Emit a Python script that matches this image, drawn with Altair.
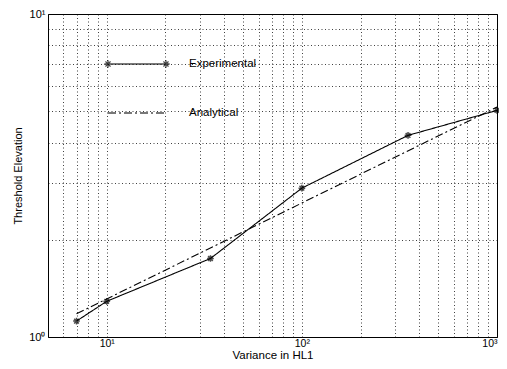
import altair as alt
import pandas as pd

# ---- data ----
series = ["Experimental", "Analytical"]
exp_x = [7, 10, 34, 100, 350, 1000]
exp_y = [1.12, 1.29, 1.75, 2.89, 4.21, 5.03]
ana_x = [7, 1000]
ana_y = [1.18, 5.15]

x_grid = [5, 6, 7, 8, 9, 10, 20, 30, 40, 50, 60, 70, 80, 90,
          100, 200, 300, 400, 500, 600, 700, 800, 900, 1000]
y_grid = [1, 2, 3, 4, 5, 6, 7, 8, 9, 10]
x_tick_labels = {10: "10¹", 100: "10²", 1000: "10³"}
y_tick_labels = {1: "10⁰", 10: "10¹"}

FONT = "Liberation Sans"

df = pd.DataFrame(
    [{"x": a, "y": b, "series": series[0]} for a, b in zip(exp_x, exp_y)]
    + [{"x": a, "y": b, "series": series[1]} for a, b in zip(ana_x, ana_y)]
)


def label_expr(d):
    expr = "''"
    for k, v in sorted(d.items(), reverse=True):
        expr = f"datum.value == {k} ? '{v}' : ({expr})"
    return expr


star = "M-1,0H1M0,-1V1M-0.7,-0.7L0.7,0.7M-0.7,0.7L0.7,-0.7"
r = 0.16
def star_at(cx):
    return (f"M{cx-r},0H{cx+r}M{cx},{-r}V{r}"
            f"M{cx-0.7*r},{-0.7*r}L{cx+0.7*r},{0.7*r}"
            f"M{cx-0.7*r},{0.7*r}L{cx+0.7*r},{-0.7*r}")
exp_sym = "M-1.26,0H1.26" + star_at(-1.26) + star_at(1.26)
ana_sym = "M-1.26,0H1.26"

dash_scale = alt.Scale(domain=series, range=[[1, 0], [8, 3, 2, 3]])
legend = alt.Legend(
    title=None, orient="none", legendX=65, legendY=26,
    symbolSize=2116, symbolStrokeWidth=1.3, symbolStrokeColor="black",
    symbolFillColor="transparent",
    labelFont=FONT, labelFontSize=11.5, labelColor="black",
    labelOffset=28, rowPadding=18, padding=0,
)

x_enc = alt.X("x:Q",
              scale=alt.Scale(type="log", domain=[5, 1000], nice=False),
              axis=alt.Axis(values=x_grid, labelExpr=label_expr(x_tick_labels),
                            title="Variance in HL1", titleBaseline="alphabetic",
                            titleY=21, titleFontSize=11.5,
                            labelPadding=1, labelFontSize=10.5))
y_enc = alt.Y("y:Q",
              scale=alt.Scale(type="log", domain=[1, 10], nice=False),
              axis=alt.Axis(values=y_grid, labelExpr=label_expr(y_tick_labels),
                            title="Threshold Elevation", titlePadding=5,
                            labelPadding=3))

lines = alt.Chart(df).mark_line(color="black", strokeWidth=1.1, clip=True).encode(
    x=x_enc,
    y=y_enc,
    strokeDash=alt.StrokeDash("series:N", scale=dash_scale, legend=legend),
)

points = alt.Chart(df).transform_filter(
    alt.datum.series == series[0]
).mark_point(shape=star, size=45, filled=False, color="black", strokeWidth=1.5).encode(
    x="x:Q", y="y:Q"
)

# layer that draws nothing; it only gives the legend its symbols
legend_layer = alt.Chart(df).transform_filter("false").mark_point(
    filled=False, color="black", strokeWidth=1.3
).encode(
    shape=alt.Shape("series:N", scale=alt.Scale(domain=series, range=[exp_sym, ana_sym]),
                    legend=legend),
)

chart = alt.layer(lines, points, legend_layer).properties(
    width=449, height=323,
    autosize=alt.AutoSizeParams(type="none"),
    padding={"left": 40, "top": 6, "right": 2, "bottom": 24},
).configure_view(
    stroke="black", strokeWidth=1
).configure_axis(
    domain=False, ticks=False, grid=True,
    gridColor="black", gridDash=[1, 2.5], gridOpacity=0.75, gridWidth=1,
    labelFont=FONT, labelFontSize=11, labelColor="black",
    titleFont=FONT, titleFontSize=11, titleFontWeight="normal", titleColor="black",
)

chart.save("out.html", embed_options={"renderer": "svg", "actions": False})
